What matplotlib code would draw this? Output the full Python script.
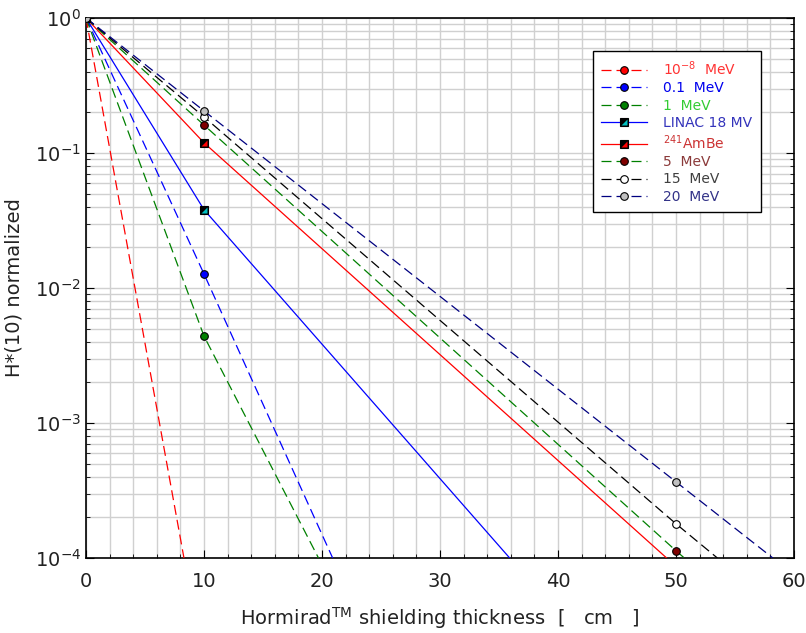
import matplotlib
matplotlib.use("Agg")
import matplotlib.pyplot as plt
from matplotlib.ticker import LogLocator, MultipleLocator, NullFormatter
from matplotlib.legend_handler import HandlerTuple

# attenuation curves, values
# line points (x in cm, H*(10) normalized), last point = where line leaves at 1e-4
labels = ["10$^{-8}$  MeV", "0.1  MeV", "1  MeV", "LINAC 18 MV",
          "$^{241}$AmBe", "5  MeV", "15  MeV", "20  MeV"]
line_x = [
    [0, 8.3],
    [0, 10, 20.9],
    [0, 10, 19.7],
    [0, 10, 35.9],
    [0, 10, 49.2],
    [0, 10, 50, 50.7],
    [0, 10, 50, 53.5],
    [0, 10, 50, 58.2],
]
line_y = [
    [1, 1e-4],
    [1, 1.27e-2, 1e-4],
    [1, 4.4e-3, 1e-4],
    [1, 3.8e-2, 1e-4],
    [1, 1.19e-1, 1e-4],
    [1, 1.61e-1, 1.13e-4, 1e-4],
    [1, 1.85e-1, 1.79e-4, 1e-4],
    [1, 2.05e-1, 3.66e-4, 1e-4],
]
# measured points (markers)
pt_x = [[0], [0, 10], [0, 10], [0, 10], [0, 10], [0, 10, 50], [0, 10, 50], [0, 10, 50]]
pt_y = [[1], [1, 1.27e-2], [1, 4.4e-3], [1, 3.8e-2], [1, 1.19e-1],
        [1, 1.61e-1, 1.13e-4], [1, 1.85e-1, 1.79e-4], [1, 2.05e-1, 3.66e-4]]

line_colors = ["#ff0000", "#0000ff", "#008000", "#0000ff", "#ff0000", "#008000", "#000000", "#000080"]
dashed = [True, True, True, False, False, True, True, True]
face_colors = ["#ff0000", "#0000ff", "#008000", "#000000", "#000000", "#800000", "#ffffff", "#c0c0c0"]
markers = ["o", "o", "o", "s", "s", "o", "o", "o"]
tri_colors = [None, None, None, "#00c0c0", "#ff0000", None, None, None]
text_colors = ["#ff3333", "#0000ee", "#33cc33", "#3333bb", "#cc3333", "#8b3a3a", "#404040", "#333388"]

fig = plt.figure(figsize=(8.06, 6.33), dpi=100)
ax = fig.add_axes([0.1067, 0.1185, 0.8785, 0.8531])

tri = [(-0.55, -0.75), (0.75, -0.75), (0.75, 0.55)]
ms = 5.5
handles = []
for i in range(len(labels)):
    ls = (0, (8, 4)) if dashed[i] else "-"
    ax.plot(line_x[i], line_y[i], color=line_colors[i], lw=0.9, linestyle=ls, zorder=3)
    ax.plot(pt_x[i], pt_y[i], linestyle="none", marker=markers[i], ms=ms,
            mfc=face_colors[i], mec="black", mew=0.8, zorder=4)
    h = plt.Line2D([], [], color=line_colors[i], lw=0.9, linestyle=ls, marker=markers[i],
                   ms=ms, mfc=face_colors[i], mec="black", mew=0.8)
    if tri_colors[i]:
        ax.plot(pt_x[i][1:], pt_y[i][1:], linestyle="none", marker=tri, ms=ms - 0.5,
                mfc=tri_colors[i], mec="none", zorder=5)
        t = plt.Line2D([], [], linestyle="none", marker=tri, ms=ms - 0.5, mfc=tri_colors[i], mec="none")
        h = (h, t)
    handles.append(h)

ax.set_yscale("log")
ax.set_xlim(0, 60)
ax.set_ylim(1e-4, 1)
ax.xaxis.set_major_locator(MultipleLocator(10))
ax.xaxis.set_minor_locator(MultipleLocator(2))
ax.yaxis.set_major_locator(LogLocator(base=10))
ax.yaxis.set_minor_locator(LogLocator(base=10, subs=range(2, 10)))
ax.yaxis.set_minor_formatter(NullFormatter())

ax.grid(which="both", color="#d0d0d0", lw=1.0, zorder=0)
ax.set_axisbelow(True)
ax.tick_params(which="both", direction="in", right=True, labelsize=14, colors="black")
ax.tick_params(which="major", length=6)
ax.tick_params(which="minor", length=3)
for lbl in ax.get_xticklabels() + ax.get_yticklabels():
    lbl.set_color("#222222")
for s in ax.spines.values():
    s.set_linewidth(1.2)
ax.tick_params(axis="x", pad=10)

ax.set_xlabel("Hormirad$^{\\mathrm{TM}}$ shielding thickness  [   cm   ]", fontsize=14, labelpad=10,
              color="#222222")
ax.set_ylabel("H*(10) normalized", fontsize=14, labelpad=8, color="#222222")

leg = ax.legend(handles, labels, loc="upper right", bbox_to_anchor=(0.953, 0.939),
                fontsize=10, handlelength=3.3, handletextpad=1.2, labelspacing=0.24,
                borderpad=0.6, borderaxespad=0, fancybox=False, framealpha=1, edgecolor="black",
                handler_map={tuple: HandlerTuple(ndivide=1)})
leg.get_frame().set_linewidth(1.0)
for txt, c in zip(leg.get_texts(), text_colors):
    txt.set_color(c)

fig.savefig("out.png", dpi=100)
